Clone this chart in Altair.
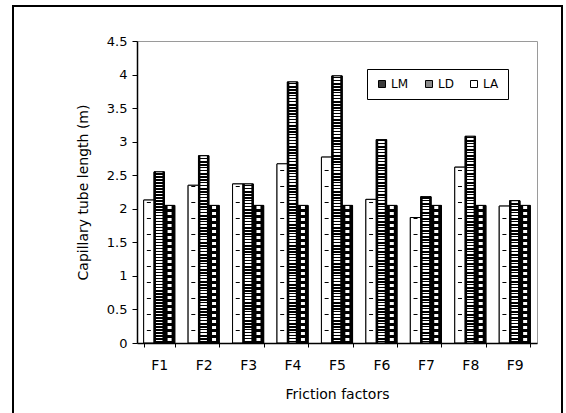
import altair as alt

# ---- data ----
categories = ["F1", "F2", "F3", "F4", "F5", "F6", "F7", "F8", "F9"]
series_names = ["LM", "LD", "LA"]
lm = [2.13, 2.35, 2.37, 2.67, 2.77, 2.14, 1.87, 2.62, 2.04]
ld = [2.55, 2.79, 2.37, 3.89, 3.98, 3.03, 2.18, 3.08, 2.12]
la = [2.05, 2.05, 2.05, 2.05, 2.05, 2.05, 2.05, 2.05, 2.05]
y_ticks = [0, 0.5, 1, 1.5, 2, 2.5, 3, 3.5, 4, 4.5]

# ---- layout / style ----
PLOT_W, PLOT_H = 400, 302
Y_MAX = 4.5
PX_PER_UNIT = PLOT_H / Y_MAX
CLEAR = "rgba(255,255,255,0)"
FONT = "DejaVu Sans"


def vstripes(value, period, on_len, on_color, off_color, phase=0.0):
    """Vertical gradient that imitates a horizontal hatch of fixed pixel period."""
    h = max(value * PX_PER_UNIT, 1.0)
    segs = []
    t = -phase
    while t < h:
        a, b = max(t, 0.0), min(t + on_len, h)
        if b > a:
            segs.append((a, b, on_color))
        a2, b2 = max(t + on_len, 0.0), min(t + period, h)
        if b2 > a2:
            segs.append((a2, b2, off_color))
        t += period
    stops = []
    for a, b, c in reversed(segs):
        stops.append({"offset": round((h - b) / h, 5), "color": c})
        stops.append({"offset": round((h - a) / h, 5), "color": c})
    return {"gradient": "linear", "x1": 0, "y1": 0, "x2": 0, "y2": 1, "stops": stops}


def pattern(series, value):
    if series == "LM":
        return "white", vstripes(value, 16, 1.3, "black", CLEAR, phase=4)
    if series == "LD":
        return "black", vstripes(value, 3, 1.5, "white", "black", phase=1)
    return "black", vstripes(value, 6, 3, "white", "black", phase=4)


records = []
for i, cat in enumerate(categories):
    for s, vals in zip(series_names, [lm, ld, la]):
        v = vals[i]
        base_fill, rows = pattern(s, v)
        records.append({"cat": cat, "series": s, "value": v,
                        "base_fill": base_fill, "rows": rows})

data = alt.Data(values=records)

base = alt.Chart(data).encode(
    x=alt.X("cat:N", sort=categories,
            scale=alt.Scale(domain=categories, paddingInner=0.3, paddingOuter=0.15),
            axis=alt.Axis(title="Friction factors", labelAngle=0, tickBand="extent",
                          tickSize=4, labelPadding=11, titlePadding=15,
                          labelFontSize=14, titleFontSize=14, zindex=1,
                          titleColor="black", labelColor="black")),
    xOffset=alt.XOffset("series:N", sort=series_names,
                        scale=alt.Scale(domain=series_names, paddingInner=0, paddingOuter=0)),
    y=alt.Y("value:Q", scale=alt.Scale(domain=[0, Y_MAX], nice=False),
            axis=alt.Axis(title="Capillary tube length (m)", values=y_ticks, format="~g",
                          tickSize=5, labelPadding=5, labelFontSize=13, titleFontSize=14,
                          grid=False, titleX=-54, titleY=151, titleAngle=270,
                          titleAlign="center", titleBaseline="middle", zindex=1,
                          titleColor="black", labelColor="black")),
)

legend_layer = base.mark_bar(stroke="black", strokeWidth=1).encode(
    fill=alt.Fill("series:N", sort=series_names,
                  scale=alt.Scale(domain=series_names, range=["#3a3a3a", "#8a8a8a", "#ffffff"]),
                  legend=alt.Legend(title=None, orient="none", legendX=230, legendY=28,
                                    direction="horizontal", columns=3,
                                    strokeColor="black", padding=9,
                                    symbolType="square", symbolSize=49,
                                    symbolStrokeColor="black", symbolStrokeWidth=1,
                                    labelFont=FONT, labelFontSize=12, labelOffset=3,
                                    columnPadding=14, labelColor="black"))
)
fill_layer = base.mark_bar().encode(fill=alt.Fill("base_fill:N", scale=None))

lm_rows = base.transform_filter(alt.datum.series == "LM").mark_bar(
    width=4, xOffset=-2).encode(fill=alt.Fill("rows:N", scale=None))
ld_rows = base.transform_filter(alt.datum.series == "LD").mark_bar(
    width=6.5).encode(fill=alt.Fill("rows:N", scale=None))
la_rows = base.transform_filter(alt.datum.series == "LA").mark_bar(
    width=4, xOffset=2).encode(fill=alt.Fill("rows:N", scale=None))

outline_layer = base.mark_bar(fillOpacity=0, stroke="black", strokeWidth=1)

frame = alt.Chart(alt.Data(values=[{}])).mark_rect(
    fillOpacity=0, stroke="black", strokeWidth=2
).encode(x=alt.value(-124), x2=alt.value(425), y=alt.value(-35), y2=alt.value(390))

chart = alt.layer(
    legend_layer, fill_layer, lm_rows, ld_rows, la_rows, outline_layer, frame
).properties(
    width=PLOT_W, height=PLOT_H,
    autosize=alt.AutoSizeParams(type="none"),
    padding={"left": 137, "top": 41, "right": 29, "bottom": 72},
    background="white",
).configure(font=FONT).configure_view(
    stroke="#9a9a9a", strokeWidth=1
).configure_axis(
    domainColor="black", tickColor="black", labelColor="black", titleColor="black",
    titleFontWeight="normal", labelFont=FONT, titleFont=FONT, domainWidth=1.5
)

chart.save("out.html", embed_options={"renderer": "svg", "actions": False})
